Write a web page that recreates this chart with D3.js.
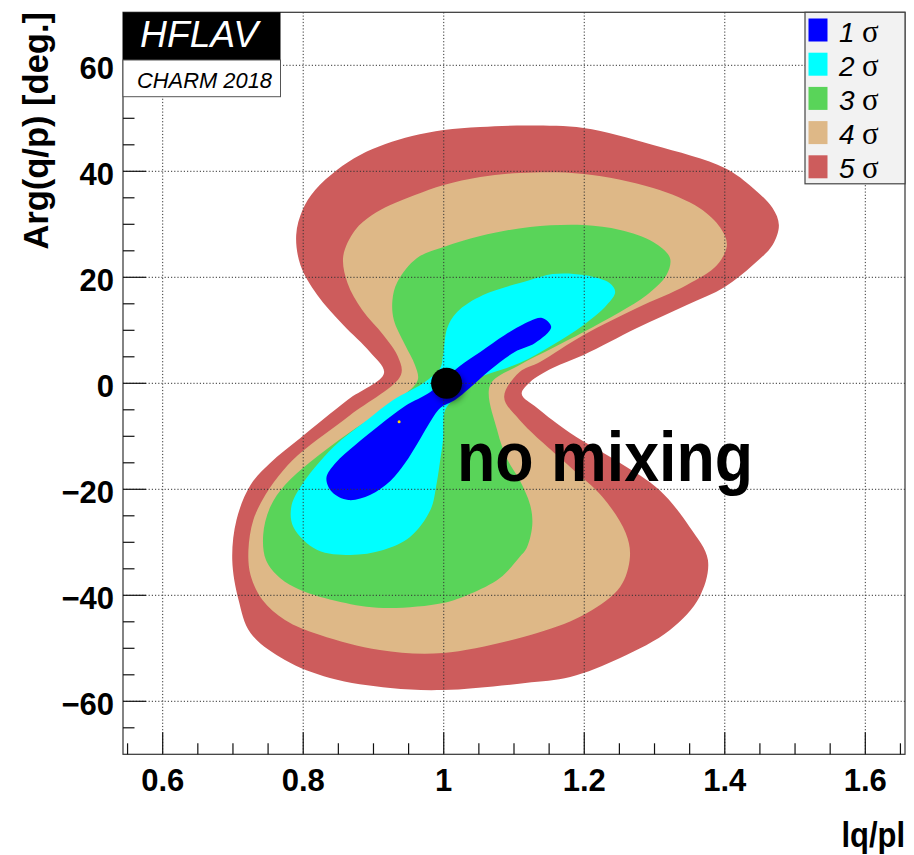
<!DOCTYPE html>
<html><head><meta charset="utf-8">
<script src="https://cdn.jsdelivr.net/npm/d3@7"></script>
<style>body{margin:0;background:#fff}</style>
</head><body><svg id="c" width="914" height="855"></svg>
<script>
// ---- data (|q/p|, Arg(q/p) in degrees) ----
const levelNames = ["1", "2", "3", "4", "5"];
const levelColors = ["#0000ff", "#00ffff", "#59d459", "#deb887", "#cd5c5c"];

const contour5 = [[0.915,1.94],[0.895,5.91],[0.857,11.0],[0.820,16.66],[0.796,22.32],[0.790,27.98],[0.799,32.70],[0.817,36.47],[0.848,40.25],[0.881,43.08],[0.917,45.15],[0.955,46.66],[1.000,47.79],[1.052,48.36],[1.123,48.64],[1.199,48.17],[1.298,44.96],[1.400,40.62],[1.440,36.85],[1.468,33.08],[1.477,29.87],[1.468,26.09],[1.440,22.32],[1.400,18.17],[1.346,14.77],[1.275,10.43],[1.199,5.34],[1.155,2.89],[1.123,0.25],[1.111,-2.02],[1.133,-4.66],[1.180,-9.38],[1.251,-15.04],[1.307,-20.13],[1.350,-27.11],[1.376,-33.34],[1.364,-40.32],[1.322,-46.55],[1.251,-51.83],[1.180,-55.42],[1.116,-56.55],[0.999,-57.87],[0.924,-57.49],[0.838,-55.60],[0.774,-52.21],[0.725,-47.11],[0.708,-40.89],[0.699,-33.34],[0.705,-25.79],[0.725,-19.19],[0.753,-15.04],[0.796,-10.32],[0.863,-3.15]];

const contour4 = [[0.939,1.57],[0.935,4.96],[0.914,9.11],[0.884,13.83],[0.863,18.92],[0.857,24.02],[0.874,28.92],[0.898,31.75],[0.924,33.64],[0.959,35.53],[1.000,37.42],[1.052,38.92],[1.108,39.68],[1.199,39.49],[1.298,36.85],[1.364,33.08],[1.394,29.30],[1.403,26.09],[1.389,22.32],[1.346,18.55],[1.275,14.21],[1.199,9.11],[1.137,4.02],[1.108,2.13],[1.086,-2.57],[1.108,-6.92],[1.180,-15.79],[1.226,-21.45],[1.259,-28.25],[1.265,-32.77],[1.251,-38.43],[1.204,-43.34],[1.133,-47.11],[0.999,-50.89],[0.909,-50.32],[0.824,-47.49],[0.774,-44.66],[0.742,-40.89],[0.725,-36.17],[0.722,-31.47],[0.729,-25.79],[0.746,-21.08],[0.772,-16.36],[0.796,-13.15],[0.867,-5.98]];

const contour3 = [[0.963,0.62],[0.959,3.45],[0.945,7.23],[0.929,11.94],[0.927,15.72],[0.934,19.11],[0.962,23.64],[1.000,25.72],[1.052,27.79],[1.123,29.49],[1.199,29.87],[1.251,28.92],[1.298,26.66],[1.322,23.64],[1.317,20.43],[1.289,16.66],[1.251,13.45],[1.199,9.68],[1.155,6.66],[1.108,3.45],[1.066,-0.32],[1.076,-8.81],[1.091,-14.47],[1.108,-18.25],[1.123,-22.96],[1.126,-26.74],[1.118,-31.08],[1.108,-32.77],[1.080,-36.74],[1.037,-39.77],[0.999,-41.47],[0.914,-42.40],[0.853,-41.26],[0.796,-39.00],[0.767,-36.74],[0.747,-33.34],[0.743,-28.62],[0.753,-23.34],[0.774,-19.19],[0.810,-14.85],[0.867,-9.19],[0.938,-2.77]];

const contour2 = [[0.995,2.89],[0.999,5.34],[1.005,10.43],[1.019,13.45],[1.056,16.66],[1.123,19.49],[1.155,20.62],[1.199,20.43],[1.236,18.92],[1.244,17.23],[1.232,14.77],[1.199,11.0],[1.155,7.23],[1.108,3.83],[1.052,1.19],[1.026,-0.32],[1.017,-2.57],[1.002,-5.04],[0.999,-10.70],[0.995,-14.47],[0.990,-18.81],[0.981,-23.92],[0.952,-29.02],[0.914,-31.47],[0.867,-32.40],[0.820,-31.47],[0.786,-27.11],[0.783,-23.34],[0.796,-19.57],[0.843,-12.02],[0.891,-6.92],[0.928,-3.15],[0.971,0.06]];

const contour1 = [[0.981,-1.64],[1.003,1.00],[1.023,3.26],[1.052,5.91],[1.087,9.11],[1.123,11.75],[1.140,12.32],[1.153,10.62],[1.130,7.60],[1.101,5.91],[1.066,2.51],[1.037,-0.89],[1.016,-3.15],[0.995,-4.66],[0.978,-7.87],[0.963,-11.26],[0.945,-15.04],[0.924,-18.43],[0.895,-21.08],[0.864,-22.02],[0.841,-20.51],[0.833,-17.87],[0.846,-15.04],[0.874,-11.64],[0.909,-7.87],[0.945,-4.28]];

const xTicks = [0.6, 0.8, 1.0, 1.2, 1.4, 1.6];
const xTickLabels = ["0.6", "0.8", "1", "1.2", "1.4", "1.6"];
const yTicks = [-60, -40, -20, 0, 20, 40, 60];
const yTickLabels = ["\u221260", "\u221240", "\u221220", "0", "20", "40", "60"];
const noMixingPoint = [1.004, 0];
const bestFitPoint = [0.9365, -7.25];

// ---- drawing ----
const svg = d3.select("#c");
const x = d3.scaleLinear().domain([0.5435, 1.6565]).range([123, 905]);
const y = d3.scaleLinear().domain([-70, 70]).range([754.3, 12.3]);

const defs = svg.append("defs");
defs.append("clipPath").attr("id", "clip").append("rect")
  .attr("x", 123).attr("y", 12.3).attr("width", 782).attr("height", 742);
const f = defs.append("filter").attr("id", "blur").attr("x", "-50%").attr("y", "-50%").attr("width", "200%").attr("height", "200%");
f.append("feGaussianBlur").attr("stdDeviation", 3);

const line = d3.line().x(d => x(d[0])).y(d => y(d[1])).curve(d3.curveCatmullRomClosed.alpha(0.5));
const contours = [contour5, contour4, contour3, contour2, contour1];
const gC = svg.append("g").attr("clip-path", "url(#clip)");
contours.forEach((c, i) => {
  gC.append("path").attr("d", line(c)).attr("fill", levelColors[4 - i]);
});

// grid
const gG = svg.append("g").attr("stroke", "#333").attr("stroke-width", 1).attr("stroke-dasharray", "1.2,2");
xTicks.forEach(t => gG.append("line").attr("x1", x(t)).attr("x2", x(t)).attr("y1", 12.3).attr("y2", 754.3));
yTicks.forEach(t => gG.append("line").attr("y1", y(t)).attr("y2", y(t)).attr("x1", 123).attr("x2", 905));

// frame
svg.append("rect").attr("x", 123).attr("y", 12.3).attr("width", 782).attr("height", 742)
  .attr("fill", "none").attr("stroke", "#333").attr("stroke-width", 1.2);

// ticks
const gT = svg.append("g").attr("stroke", "#111").attr("stroke-width", 1.2);
d3.range(0.55, 1.66, 0.05).forEach(t => {
  const major = xTicks.some(m => Math.abs(m - t) < 1e-6);
  gT.append("line").attr("x1", x(t)).attr("x2", x(t)).attr("y1", 754.3).attr("y2", 754.3 - (major ? 22 : 11));
});
d3.range(-65, 70, 5).forEach(t => {
  const major = yTicks.includes(t);
  gT.append("line").attr("y1", y(t)).attr("y2", y(t)).attr("x1", 123).attr("x2", 123 + (major ? 23 : 11.5));
});

// tick labels
const lab = svg.append("g").attr("font-family", "Liberation Sans, Arial, sans-serif").attr("font-weight", "bold").attr("fill", "#000");
xTicks.forEach((t, i) => lab.append("text").attr("x", x(t)).attr("y", 791).attr("text-anchor", "middle")
  .attr("font-size", 31).text(xTickLabels[i]));
yTicks.forEach((t, i) => lab.append("text").attr("x", 114).attr("y", y(t) + 13.5).attr("text-anchor", "end")
  .attr("font-size", 31).text(yTickLabels[i]));

// axis titles
lab.append("text").attr("font-size", 34.5).attr("text-anchor", "end")
  .attr("transform", "translate(48,12) rotate(-90)").text("Arg(q/p) [deg.]");
lab.append("text").attr("font-size", 36).attr("text-anchor", "end")
  .attr("transform", "translate(905,847) scale(0.86,1)").text("lq/pl");

// points
svg.append("circle").attr("cx", x(noMixingPoint[0]) + 3).attr("cy", y(noMixingPoint[1]) + 4).attr("r", 15)
  .attr("fill", "#000").attr("opacity", 0.45).attr("filter", "url(#blur)");
svg.append("circle").attr("cx", x(noMixingPoint[0])).attr("cy", y(noMixingPoint[1])).attr("r", 15.5).attr("fill", "#000");
svg.append("circle").attr("cx", x(bestFitPoint[0])).attr("cy", y(bestFitPoint[1])).attr("r", 1.5).attr("fill", "#ffd700");

svg.append("text").attr("x", 457).attr("y", 481).attr("font-family", "Liberation Sans, Arial, sans-serif")
  .attr("font-weight", "bold").attr("font-size", 70).attr("textLength", 296).attr("lengthAdjust", "spacingAndGlyphs")
  .text("no mixing");

// HFLAV logo
svg.append("rect").attr("x", 123).attr("y", 12.3).attr("width", 157.5).attr("height", 47.7).attr("fill", "#000");
svg.append("rect").attr("x", 123).attr("y", 60).attr("width", 157.5).attr("height", 36.7).attr("fill", "#fff")
  .attr("stroke", "#555").attr("stroke-width", 1);
svg.append("text").attr("x", 140).attr("y", 47).attr("fill", "#fff").attr("font-family", "Liberation Sans, Arial, sans-serif")
  .attr("font-style", "italic").attr("font-size", 36).attr("textLength", 118).attr("lengthAdjust", "spacingAndGlyphs").text("HFLAV");
svg.append("text").attr("x", 137).attr("y", 87.5).attr("fill", "#000").attr("font-family", "Liberation Sans, Arial, sans-serif")
  .attr("font-style", "italic").attr("font-size", 22).attr("textLength", 135).attr("lengthAdjust", "spacingAndGlyphs").text("CHARM 2018");

// legend
const lg = svg.append("g");
lg.append("rect").attr("x", 805).attr("y", 12.3).attr("width", 100).attr("height", 171.5)
  .attr("fill", "#f2f2f2").attr("stroke", "#444").attr("stroke-width", 1.2);
levelNames.forEach((n, i) => {
  const cy = 30 + i * 34.2;
  lg.append("rect").attr("x", 808.5).attr("y", cy - 11.5).attr("width", 19).attr("height", 23).attr("fill", levelColors[i]);
  lg.append("text").attr("x", 839).attr("y", cy + 11.5).attr("font-family", "Liberation Sans, Arial, sans-serif")
    .attr("font-style", "italic").attr("font-size", 28).text(n);
  lg.append("text").attr("x", 862).attr("y", cy + 11.5).attr("font-family", "Liberation Serif, Times New Roman, serif")
    .attr("font-size", 31).text("\u03c3");
});
</script>
</body></html>
